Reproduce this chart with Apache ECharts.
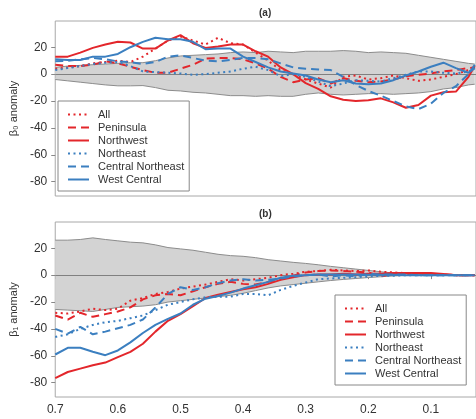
<!DOCTYPE html>
<html>
<head>
<meta charset="utf-8">
<script src="https://cdn.jsdelivr.net/npm/echarts@6/dist/echarts.min.js"></script>
<style>html,body{margin:0;padding:0;background:#fff;}#c{width:476px;height:419px;}</style>
</head>
<body>
<div id="c"></div>
<script>
// x positions (threshold), reversed axis
const xs = [0.70,0.68,0.66,0.64,0.62,0.60,0.58,0.56,0.54,0.52,0.50,0.48,0.46,0.44,0.42,0.40,0.38,0.36,0.34,0.32,0.30,0.28,0.26,0.24,0.22,0.20,0.18,0.16,0.14,0.12,0.10,0.08,0.06,0.04,0.03];
const seriesNames = ['All','Peninsula','Northwest','Northeast','Central Northeast','West Central'];
const xTickValues = [0.7,0.6,0.5,0.4,0.3,0.2,0.1];
const yTickValues = [-80,-60,-40,-20,0,20];

// Panel (a): beta0 anomaly
const bandAUpper = [5,6,6.5,7,7.5,8,8.5,8.5,10,12,13.5,14,14.5,15,16,16.5,16,17,16.5,16,17,17,17,17.5,17,16,16.5,16,15.5,14,12.5,11,9.5,8,7.5];
const bandALower = [-4,-5,-6,-7,-8,-8.7,-8.7,-8.5,-10,-12,-12.5,-13.5,-14,-15,-16,-16,-16.5,-16,-16.5,-16.5,-15,-14,-15,-15.5,-15,-14.5,-14.5,-15,-14.5,-14,-13,-11,-10,-8,-7.5];
const aAll = [4,5,6,8,9,10,9,13,19,25,28,25,22,27,23,22,16,10,3,0,-4,-7,-10,-2,-1,-4,-3,-1,-3,-5,-4,-2,0,3,6];
const aPeninsula = [7,6,6,7,9.5,8,5.5,3,1,1,4,7,11.5,12,12,11,8,4,-2,-6,-4,-3,-7,-3,-5,-6,-5.5,-4,-1.5,-0.5,0.5,2,3,4.5,5];
const aNorthwest = [13,13,16,19.5,22,24,23.5,19,19,25,29,23,19.5,20.5,22,22,17,13,5,0,-6.7,-11,-16.5,-19,-20,-19.5,-18,-21,-25,-23,-16,-13.5,-13,-2,6];
const aNortheast = [3,4.5,6,7.5,8.5,9,6,2,1.5,1,0.5,-0.5,0,1,2,4,5.5,3,-1.5,0,-2,-5.5,-9,-7,-4.5,-5,-5.5,-3,-0.5,2,2,1,0.5,2,4];
const aCentralNE = [9.5,10,11,12,11,9.5,9,7.5,9,13,14,12,10,9.5,10.5,12,12,11,8,5,4,3.5,3,-2,-8,-12.5,-16,-20,-24,-26,-22,-14,-9,0,7];
const aWestCentral = [11,10.5,10.5,13,13,15,20,24,27,26,26,24,18.5,19,19,13,9,5,2,0.5,-1,-4,-6,-4.5,-7,-7.5,-7,-4.5,-1,2,5.5,8.5,4.5,1,4.5];

// Panel (b): beta1 anomaly
const bandBUpper = [26,26,26.5,27.7,26.5,25.5,24.5,24,22.5,20.5,19.5,18.5,17,15.5,14.5,14,13,11.5,10.5,9.5,8.7,7.7,6.5,5.5,4.5,3.5,2.5,1.6,1,0.5,0.2,0.1,0,0,0];
const bandBLower = [-25.5,-26,-26.5,-27,-25.5,-24,-23.5,-23,-22,-20,-19,-18,-17,-16,-15,-13.5,-11.5,-9.5,-8,-7,-6,-5,-4,-3.2,-2.5,-1.8,-1.2,-0.6,-0.3,-0.1,0,0,0,0,0];
const bAll = [-28,-28.5,-27,-25,-26,-25,-19,-17,-14,-12.5,-10,-8.5,-7,-5,-3,-4,-3,-2,0,1,2.5,3,4,3.5,3,3.5,2.5,2,1.5,1.5,1,0.5,0,0,0];
const bPeninsula = [-30,-33,-28,-31,-29,-27,-24,-18,-15,-14,-15,-12,-9,-6.5,-5,-6.5,-7,-5,-3,-0.5,2,3,3.5,3,2.5,2,-1,1,0.5,0.5,1,0.5,0,0,0];
const bNorthwest = [-76.5,-72,-69.5,-67,-65,-61,-57,-51,-42,-34,-29,-23,-17,-14.5,-12.5,-10.5,-9,-6.5,-3.5,-1.5,0,0.5,0.5,1,0.5,1,1,1.5,1.5,1.5,1.5,0.8,0,0,0];
const bNortheast = [-46,-44,-40,-37,-35,-34,-32,-30,-26,-22,-20,-18,-16.5,-16,-16,-14,-14,-15,-11,-8,-5.5,-3,-2.5,-2,-1.5,-1,-0.5,-0.5,0,0,0,0,0,0,0];
const bCentralNE = [-40,-43.5,-38.5,-44,-42,-39.5,-37,-33,-24,-14,-9,-11,-9,-6,-4,-3,-4,-3.5,-2.5,-1,0,0.5,-1,0,-1,1,0.5,0.5,0.5,0,0,0,0,0,0];
const bWestCentral = [-59,-54,-54,-57,-59.5,-56,-50,-43,-37,-32.5,-28.5,-22,-17.5,-15.5,-13,-10,-7.5,-5,-2,-0.5,0,0.5,0.5,0.5,0.5,0.3,0.3,0.2,0,0,0,0,0,0,0];

const RED = '#e3262b', BLUE = '#3b7fc0';
const DOT = [2, 3.5], DASH = [8, 5];
const styles = {
  'All': [RED, DOT], 'Peninsula': [RED, DASH], 'Northwest': [RED, 'solid'],
  'Northeast': [BLUE, DOT], 'Central Northeast': [BLUE, DASH], 'West Central': [BLUE, 'solid']
};
const FONT = 'Liberation Sans, Arial, sans-serif';

function pairs(arr){ return xs.map((x,i)=>[x, arr[i]]); }
function lineSeries(name, arr, gi){
  const st = styles[name];
  return {
    type:'line', name:name, xAxisIndex:gi, yAxisIndex:gi, data:pairs(arr),
    symbol:'none', showSymbol:false, z:5,
    lineStyle:{color:st[0], width:2, type:st[1]}, itemStyle:{color:st[0]}
  };
}
// band: upper (>=0) and lower (<=0) edges, each filled to the zero origin
function bandSeries(lower, upper, gi){
  return [
    {type:'line', xAxisIndex:gi, yAxisIndex:gi, data:pairs(lower), symbol:'none',
     lineStyle:{color:'#8c8c8c', width:1}, areaStyle:{color:'#d3d3d3', opacity:1, origin:0}, silent:true, z:2},
    {type:'line', xAxisIndex:gi, yAxisIndex:gi, data:pairs(upper), symbol:'none',
     lineStyle:{color:'#8c8c8c', width:1}, areaStyle:{color:'#d3d3d3', opacity:1, origin:0}, silent:true, z:2,
     markLine:{silent:true, symbol:'none', label:{show:false}, animation:false,
       lineStyle:{color:'#808080', width:1, type:'solid'}, data:[{yAxis:0}]}}
  ];
}

const dataA = [aAll, aPeninsula, aNorthwest, aNortheast, aCentralNE, aWestCentral];
const dataB = [bAll, bPeninsula, bNorthwest, bNortheast, bCentralNE, bWestCentral];

const series = [].concat(
  bandSeries(bandALower, bandAUpper, 0),
  bandSeries(bandBLower, bandBUpper, 1),
  seriesNames.map((n,i)=>lineSeries(n, dataA[i], 0)),
  seriesNames.map((n,i)=>lineSeries(n, dataB[i], 1))
);

function xAxis(gi, labels){
  return {type:'value', gridIndex:gi, inverse:true, min:0.028, max:0.7,
    axisLine:{show:false}, splitLine:{show:false},
    axisTick:{show:true, customValues:xTickValues, length:4, lineStyle:{color:'#888'}},
    axisLabel:{show:labels, customValues:xTickValues, margin:7, fontSize:12, color:'#333', fontFamily:FONT}};
}
function yAxis(gi, name){
  return {type:'value', gridIndex:gi, min:-90.6, max:39.5,
    name:name, nameLocation:'middle', nameGap:33,
    nameTextStyle:{fontSize:11, color:'#333', fontFamily:FONT},
    axisLine:{show:false}, splitLine:{show:false},
    axisTick:{show:true, customValues:yTickValues, length:4, lineStyle:{color:'#888'}},
    axisLabel:{customValues:yTickValues, margin:8, fontSize:12, color:'#333', fontFamily:FONT}};
}
function legend(left, top){
  return {orient:'vertical', left:left, top:top, data:seriesNames,
    itemWidth:21, itemHeight:10, itemGap:0, padding:[7,5,5,9],
    borderColor:'#888', borderWidth:1, backgroundColor:'#fff',
    selectedMode:false, itemStyle:{opacity:0},
    textStyle:{fontSize:11, color:'#333', fontFamily:FONT, lineHeight:13, padding:[0,0,0,4]}};
}

const chart = echarts.init(document.getElementById('c'), null, {renderer:'canvas'});
chart.setOption({
  animation:false,
  backgroundColor:'#fff',
  title:[
    {text:'(a)', left:259, top:8, padding:0, textStyle:{fontSize:10, fontWeight:'bold', color:'#333', fontFamily:FONT}},
    {text:'(b)', left:259, top:209, padding:0, textStyle:{fontSize:10, fontWeight:'bold', color:'#333', fontFamily:FONT}}
  ],
  grid:[
    {left:45, top:21, right:-2, height:175, show:true, borderColor:'#a8a8a8', borderWidth:1, backgroundColor:'transparent'},
    {left:45, top:222, right:-2, height:175, show:true, borderColor:'#a8a8a8', borderWidth:1, backgroundColor:'transparent'}
  ],
  xAxis:[xAxis(0,false), xAxis(1,true)],
  yAxis:[yAxis(0,'β₀ anomaly'), yAxis(1,'β₁ anomaly')],
  legend:[legend(58,101), legend(335,295)],
  series:series
});
</script>
</body>
</html>
